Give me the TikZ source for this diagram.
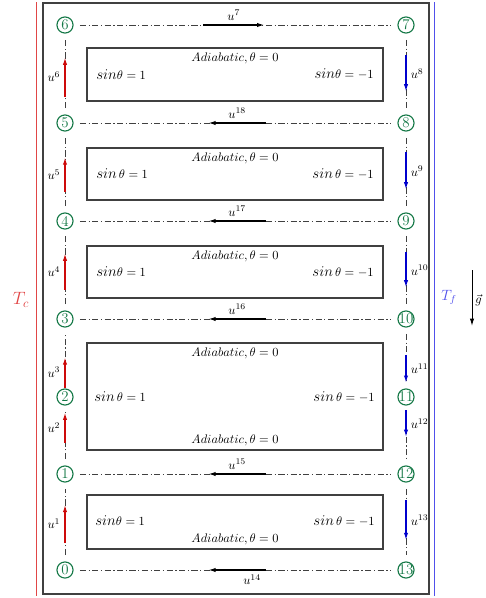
\documentclass[tikz,border=0pt]{standalone}
\usepackage{amsmath}
\usetikzlibrary{arrows.meta, positioning, calc}

\definecolor{nodegreen}{RGB}{20,120,70}
\definecolor{hotred}{RGB}{225,70,70}
\definecolor{coldblue}{RGB}{80,80,235}
\definecolor{heatred}{RGB}{205,10,10}
\definecolor{coolblue}{RGB}{0,0,205}

\newcommand{\sinl}[1]{{\large$sin$}$\theta = #1$}
\newcommand{\sinsp}[1]{{\large$sin$}$\,\theta = #1$}

\tikzset{
  numnode/.style={circle, draw=nodegreen, text=nodegreen, line width=0.9pt, minimum size=13pt, inner sep=0pt, font=\large},
  flowline/.style={draw=black!75, line width=0.6pt, dash pattern=on 5pt off 2pt on 1pt off 2pt, shorten <=5pt, shorten >=5pt},
  chamber/.style={draw=black!75, line width=0.9pt},
  work/.style={-{Latex[length=6pt,width=3.5pt]}, line width=1.1pt},
  heatup/.style={-{Latex[length=6pt,width=3.5pt]}, line width=1.1pt, heatred},
  cooldown/.style={-{Latex[length=6pt,width=3.5pt]}, line width=1.1pt, coolblue}
}

\begin{document}
\begin{tikzpicture}[x=0.806pt, y=-0.806pt]
  \useasboundingbox (0,0) rectangle (486,598);

  % Reservoirs and frame
  \draw[hotred, line width=0.8pt, double=white, double distance=0.7pt] (37,2) -- (37,596);
  \draw[coldblue, line width=0.8pt, double=white, double distance=0.7pt] (435,2) -- (435,596);
  \draw[black!75, line width=1pt] (43,3) rectangle (429,594);
  \node[hotred] (tc) at (21,300) {\Large$T_c$};
  \node[coldblue] (tf) at (449,297) {\large$T_f$};

  % Gravity
  \coordinate (gtop) at (472,270);
  \coordinate (gbot) at (472,326);
  \draw[-{Latex[length=6pt,width=3.5pt]}, line width=0.8pt] (gtop) -- (gbot) node[midway, right, xshift=-1pt, yshift=-2pt] (glab) {$\vec{g}$};

  % States, left column
  \node[numnode] (n0) at (65,570) {0};
  \node[numnode] (n1) at (65,474) {1};
  \node[numnode] (n2) at (65,397) {2};
  \node[numnode] (n3) at (65,319) {3};
  \node[numnode] (n4) at (65,221) {4};
  \node[numnode] (n5) at (65,123) {5};
  \node[numnode] (n6) at (65,25) {6};
  % States, right column
  \node[numnode] (n7) at (406,25) {7};
  \node[numnode] (n8) at (406,123) {8};
  \node[numnode] (n9) at (406,221) {9};
  \node[numnode] (n10) at (406,319) {\makebox[0pt]{10}};
  \node[numnode] (n11) at (406,397) {\makebox[0pt]{11}};
  \node[numnode] (n12) at (406,474) {\makebox[0pt]{12}};
  \node[numnode] (n13) at (406,570) {\makebox[0pt]{13}};

  % Dash-dotted paths
  \foreach \a/\b in {n6/n7, n5/n8, n4/n9, n3/n10, n1/n12, n0/n13}
    \draw[flowline] (\a) -- (\b);
  \foreach \a/\b in {n0/n1, n1/n2, n2/n3, n3/n4, n4/n5, n5/n6, n7/n8, n8/n9, n9/n10, n10/n11, n11/n12, n12/n13}
    \draw[flowline] (\a) -- (\b);

  % Adiabatic chambers
  \draw[chamber] (87,48) rectangle (383,101);
  \node[below] (adA) at (235,48) {$Adiabatic, \theta = 0$};
  \node[anchor=west] (sAl) at (92,74.5) {\sinl{1}};
  \node[anchor=east] (sAr) at (378,74.5) {\sinl{-1}};

  \draw[chamber] (87,148) rectangle (383,200);
  \node[below] (adB) at (235,148) {$Adiabatic, \theta = 0$};
  \node[anchor=west] (sBl) at (92,174) {\sinsp{1}};
  \node[anchor=east] (sBr) at (378,174) {\sinsp{-1}};

  \draw[chamber] (87,246) rectangle (383,298);
  \node[below] (adC) at (235,246) {$Adiabatic, \theta = 0$};
  \node[anchor=west] (sCl) at (92,272) {\sinl{1}};
  \node[anchor=east] (sCr) at (378,272) {\sinsp{-1}};

  \draw[chamber] (87,343) rectangle (383,450);
  \node[below] (adDt) at (235,343) {$Adiabatic, \theta = 0$};
  \node[above] (adDb) at (235,450) {$Adiabatic, \theta = 0$};
  \node[anchor=west] (sDl) at (90,397) {\sinsp{1}};
  \node[anchor=east] (sDr) at (379,397) {\sinsp{-1}};

  \draw[chamber] (87,495) rectangle (383,549);
  \node[above] (adE) at (235,549) {$Adiabatic, \theta = 0$};
  \node[anchor=west] (sEl) at (91,521) {\sinl{1}};
  \node[anchor=east] (sEr) at (379,521) {\sinsp{-1}};

  % Horizontal work arrows
  \draw[work] ($(n6)!0.405!(n7)$) -- ($(n6)!0.585!(n7)$) node[midway, above] (u7) {$u^{7}$};
  \foreach \a/\b/\k in {n5/n8/18, n4/n9/17, n3/n10/16, n1/n12/15}
    \draw[work] ($(\a)!0.59!(\b)$) -- ($(\a)!0.42!(\b)$) node[midway, above] (u\k) {$u^{\k}$};
  \draw[work] ($(n0)!0.59!(n13)$) -- ($(n0)!0.42!(n13)$) node[midway, below, xshift=12pt] (u14) {$u^{14}$};

  % Hot side, upwards
  \foreach \a/\b/\s/\e/\k in {n0/n1/0.28/0.68/1, n1/n2/0.4/0.8/2, n2/n3/0.12/0.51/3, n3/n4/0.3/0.67/4, n4/n5/0.3/0.65/5, n5/n6/0.27/0.67/6}
    \draw[heatup] ($(\a)!\s!(\b)$) -- ($(\a)!\e!(\b)$) node[midway, left, text=black] (u\k) {$u^{\k}$};
  % Cold side, downwards
  \foreach \a/\b/\s/\e/\k in {n7/n8/0.31/0.68/8, n8/n9/0.3/0.68/9, n9/n10/0.32/0.68/10, n10/n11/0.46/0.82/11, n11/n12/0.17/0.52/12, n12/n13/0.27/0.69/13}
    \draw[cooldown] ($(\a)!\s!(\b)$) -- ($(\a)!\e!(\b)$) node[midway, right, text=black] (u\k) {$u^{\k}$};
\end{tikzpicture}
\end{document}
